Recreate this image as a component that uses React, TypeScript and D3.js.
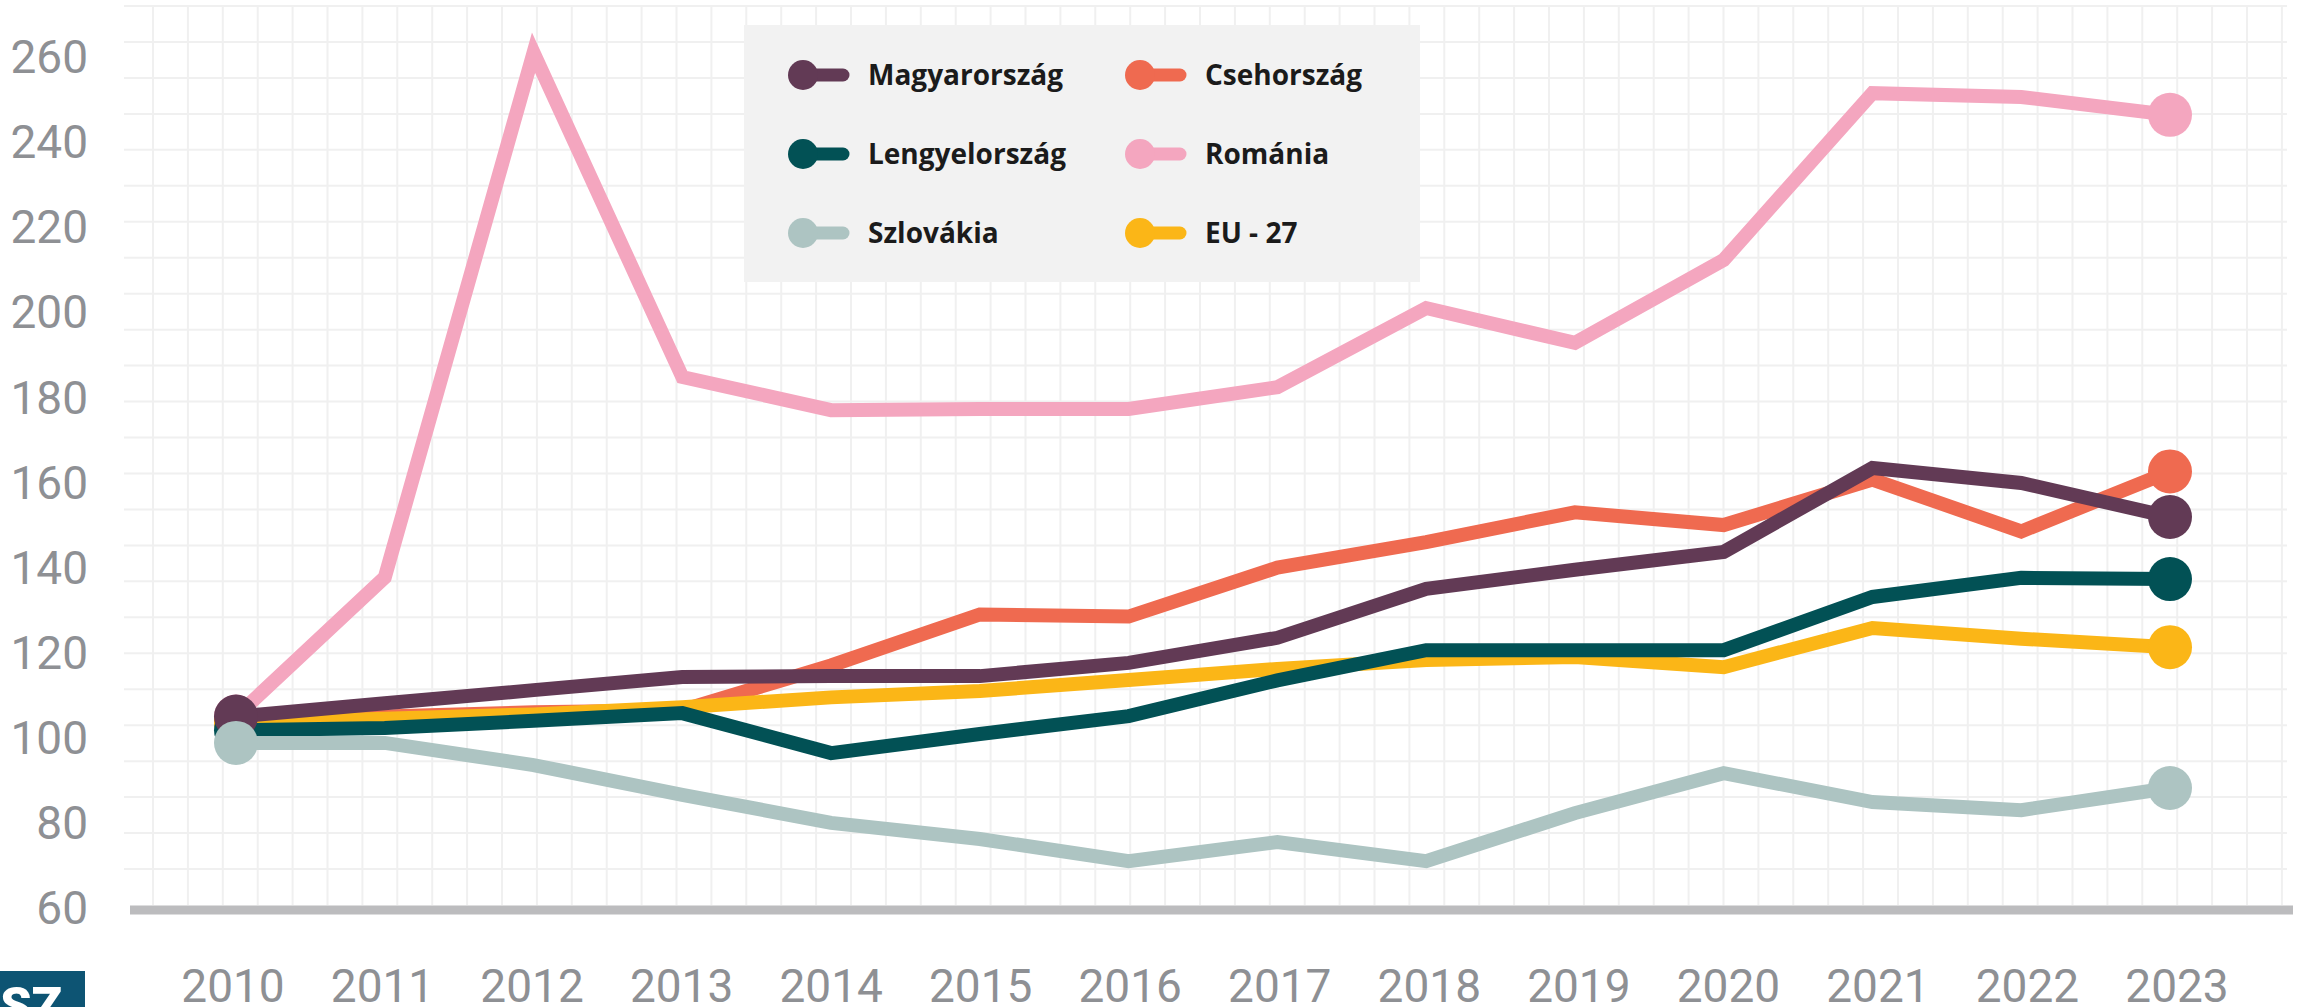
import React from "react";
import * as d3 from "d3";

const years = [2010, 2011, 2012, 2013, 2014, 2015, 2016, 2017, 2018, 2019, 2020, 2021, 2022, 2023];
const yTicks = [60, 80, 100, 120, 140, 160, 180, 200, 220, 240, 260];

const magyarorszag = [105, 108.1, 111.2, 114.3, 114.5, 114.5, 117.6, 123.5, 135, 139.5, 143.7, 163.4, 159.9, 151.9];
const csehorszag = [104, 105, 106, 106.5, 117, 129, 128.5, 140, 146, 153, 150, 160.7, 148.5, 162.6];
const lengyelorszag = [101.8, 102.3, 104, 105.8, 96.4, 100.9, 105.1, 113.5, 120.6, 120.6, 120.6, 133.1, 137.6, 137.3];
const romania = [105, 137.7, 261, 184.8, 177, 177.3, 177.3, 182.4, 201, 192.8, 212.3, 251.5, 250.6, 246.4];
const szlovakia = [98.8, 98.8, 93.6, 86.6, 80, 76.2, 71, 75.5, 71, 82.3, 91.7, 84.9, 83, 88.2];
const eu27 = [103.5, 104.5, 105.5, 107.2, 109.5, 111, 113.6, 116.2, 118.3, 119, 116.6, 125.8, 123.3, 121.3];

const seriesNames = ["Magyarország", "Csehország", "Lengyelország", "Románia", "Szlovákia", "EU - 27"];

const W = 2302;
const H = 1007;

const colors: Record<string, string> = {
  "Magyarország": "#623a55",
  "Csehország": "#ef6a50",
  "Lengyelország": "#025155",
  "Románia": "#f4a6bf",
  "Szlovákia": "#adc4c2",
  "EU - 27": "#fbb617",
};

const valuesByName: Record<string, number[]> = {
  "Magyarország": magyarorszag,
  "Csehország": csehorszag,
  "Lengyelország": lengyelorszag,
  "Románia": romania,
  "Szlovákia": szlovakia,
  "EU - 27": eu27,
};

// drawing order bottom -> top
const drawOrder = ["Románia", "Csehország", "EU - 27", "Lengyelország", "Magyarország", "Szlovákia"];

export default function App() {
  const y = d3.scaleLinear().domain([60, 260]).range([908, 57]);
  const xData = d3.scaleLinear().domain([2010, 2023]).range([236, 2170]);
  const xLabel = d3.scaleLinear().domain([2010, 2023]).range([233, 2177]);

  const gridH = d3.range(0, 25).map((k) => 6 + 35.96 * k);
  const gridV = d3.range(0, 62).map((k) => 153 + 34.9 * k);

  const line = d3
    .line<number>()
    .x((_, i) => xData(years[i]))
    .y((d) => y(d));

  const legendRows = [
    ["Magyarország", "Csehország"],
    ["Lengyelország", "Románia"],
    ["Szlovákia", "EU - 27"],
  ];
  const legendRowY = [75, 154, 233];
  const legendColX = [803, 1140];

  return (
    <svg
      width={W}
      height={H}
      style={{ position: "absolute", left: 0, top: 0, background: "#ffffff" }}
    >
      <rect x={0} y={0} width={W} height={H} fill="#ffffff" />
      <g stroke="#f0f0f0" strokeWidth={2}>
        {gridH.map((gy, i) => (
          <line key={"h" + i} x1={124} x2={2287} y1={gy} y2={gy} />
        ))}
        {gridV.map((gx, i) => (
          <line key={"v" + i} x1={gx} x2={gx} y1={6} y2={905} />
        ))}
      </g>

      <line x1={130} x2={2293} y1={910} y2={910} stroke="#bcbcbe" strokeWidth={9} />

      <g fontFamily="Roboto, sans-serif" fontSize={46} fill="#8e9094">
        {yTicks.map((t) => (
          <text key={t} x={88} y={y(t)} dy="0.35em" textAnchor="end">
            {t}
          </text>
        ))}
        {years.map((yr) => (
          <text key={yr} x={xLabel(yr)} y={1002} textAnchor="middle">
            {yr}
          </text>
        ))}
      </g>

      <rect x={744} y={25} width={676} height={257} fill="#f2f2f2" />
      <g fontFamily="'Open Sans', sans-serif" fontWeight={700} fontSize={28} fill="#1b1b1b">
        {legendRows.map((row, ri) =>
          row.map((name, ci) => {
            const cx = legendColX[ci];
            const cy = legendRowY[ri];
            return (
              <g key={name}>
                <line
                  x1={cx}
                  x2={cx + 40}
                  y1={cy}
                  y2={cy}
                  stroke={colors[name]}
                  strokeWidth={13}
                  strokeLinecap="round"
                />
                <circle cx={cx} cy={cy} r={15} fill={colors[name]} />
                <text x={cx + 65} y={cy} dy="0.36em">
                  {name}
                </text>
              </g>
            );
          })
        )}
      </g>

      {drawOrder.map((name) => {
        const vals = valuesByName[name];
        const last = vals.length - 1;
        return (
          <g key={name}>
            <path
              d={line(vals) || ""}
              fill="none"
              stroke={colors[name]}
              strokeWidth={14}
              strokeLinejoin="miter"
            />
            <circle cx={xData(years[0])} cy={y(vals[0])} r={22} fill={colors[name]} />
            <circle cx={xData(years[last])} cy={y(vals[last])} r={22} fill={colors[name]} />
          </g>
        );
      })}

      <rect x={0} y={971} width={85} height={36} fill="#0d5473" />
      <text
        x={62}
        y={1023}
        textAnchor="end"
        fontFamily="Roboto, sans-serif"
        fontWeight={900}
        fontSize={50}
        fill="#ffffff"
      >
        SZ
      </text>
    </svg>
  );
}
